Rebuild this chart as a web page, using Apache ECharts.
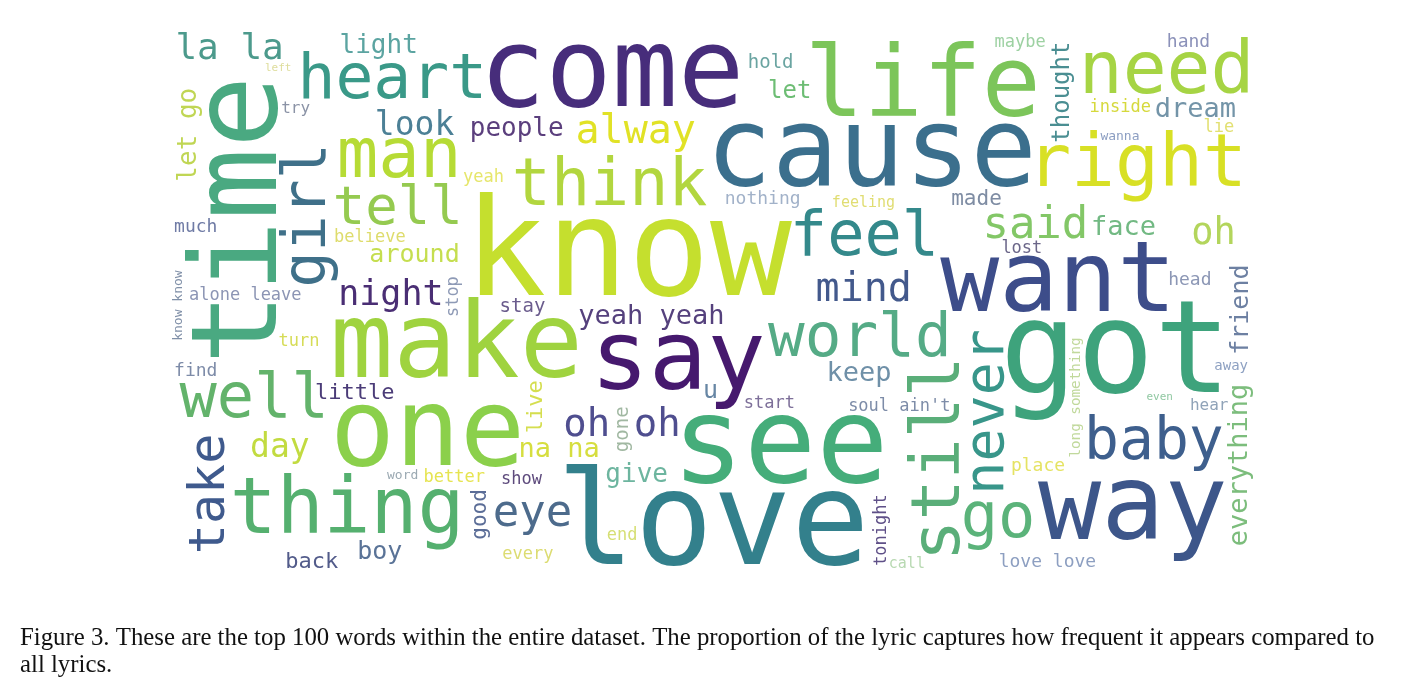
<!DOCTYPE html>
<html>
<head>
<meta charset="utf-8">
<script src="https://cdn.jsdelivr.net/npm/echarts@6/dist/echarts.min.js"></script>
<style>
html,body{margin:0;padding:0;background:#ffffff;}
#chart{width:1415px;height:698px;}
</style>
</head>
<body>
<div id="chart"></div>
<script>
// ---- data: words of the cloud and their relative weights ----
const words = ["know","love","got","time","see","cause","come","one","make","way","want","life","say",
  "thing","need","right","man","still","think","heart","well","feel","go","world","girl","baby","tell",
  "never","take","said","eye","mind","alway","oh oh","oh","la la","night","look","day","yeah yeah",
  "dream","na na","face","everything","keep","people","give","let go","light","u","around","boy",
  "friend","let","thought","little","back","live","made","good","stay","hold","gone","much","love love",
  "find","nothing","place","head","hand","soul ain't","alone leave","end","turn","inside","better",
  "believe","tonight","stop","lie","show","lost","maybe","start","yeah","every","long something","try",
  "hear","feeling","call","away","wanna","word","know know","left","even"];
const weights = [136,130,128,120,120,110,110,108,105,105,98,98,97,
  78,73,73,69,68,65,63,62,62,62,61,60,58,54,
  55,50,44,44,40,40,39,37,36,35,33,33,27,
  27,27,27,27,27,26,26,26,26,25,25,25,
  25,24,24,22,22,22,21,21,19,19,19,18,18,
  18,18,18,18,18,17,17,17,17,17,17,
  17,17,17,17,17,17,17,17,17,17,17,16,
  16,15,15,14,13,13,13,11,11];
// ---- styles (kept apart from the data) ----
const wordColors = ["#c5df2e","#33808c","#3ea37c","#4aa981","#45ad7a","#3b6f8d","#472d7b","#8bd04b","#9fd33f","#3d568a","#3d4d8a","#7cc55a","#46196e",
  "#55b06f","#a6d444","#d8e025","#b6db35","#5aae79","#b2d63f","#3a9988","#63b36b","#34898b","#5bb37a","#55ab86","#3f7089","#3e5f8d","#95ca50",
  "#38968a","#3f5a8d","#83c767","#4d6b8c","#43598c","#e1e226","#4f4e8f","#b3d55c","#4c9a8c","#4a2e74","#4c8096","#c2db40","#55417d",
  "#7394a8","#d6de3f","#72b983","#7cbd7c","#6f90a8","#5b3f7d","#6db59f","#c0d654","#5ba4a1","#6786a4","#c5de4f","#5a7397",
  "#6d80a2","#6dbd74","#4a8e92","#4b3c78","#525b8a","#d5de4f","#7e8ca3","#5b6d97","#6b5c8d","#6aa4a1","#a1b8a2","#6f7ba5","#8d9fc1",
  "#7d8ba8","#a2b2c9","#e5e363","#8c97b5","#8b91b9","#7d8ca8","#8c95b4","#d6df74","#d6dc57","#d6d93d","#e6e451",
  "#dedc6c","#5f5088","#8e9ab6","#e2e072","#5e4b7d","#6b6689","#9dd1a2","#7d6f99","#e6e66b","#dcdc72","#c1d99c","#8b93a6",
  "#90a3b8","#e0dd72","#b8d9b2","#8ea1c2","#8c9ec2","#9ba9b2","#8090a8","#dedd9c","#90c8a2"];
const wordVertical = ["time","still","girl","never","take","everything","let go","friend","thought","live",
  "good","gone","tonight","stop","long something","know know"];
const captionLines = [
  "Figure 3. These are the top 100 words within the entire dataset. The proportion of the lyric captures how frequent it appears compared to",
  "all lyrics."
];

// ---- word cloud layout (greedy placement, like the python wordcloud 400x200 canvas) ----
const CLOUD_W = 400, CLOUD_H = 200;
const WEIGHT_TO_FONT = 1 / 2.7125;
const FONT_FAMILY = '"DejaVu Sans Mono"';
const MARGIN = 2;
const RES = 2;

function layoutCloud() {
  const BW = CLOUD_W * RES, BH = CLOUD_H * RES;
  const cv = document.createElement('canvas');
  cv.width = BW; cv.height = BH;
  const ctx = cv.getContext('2d', { willReadFrequently: true });
  ctx.textBaseline = 'middle';
  ctx.textAlign = 'left';
  ctx.fillStyle = '#000';
  const W1 = BW + 1;
  const integ = new Int32Array(W1 * (BH + 1));
  function buildIntegral() {
    const d = ctx.getImageData(0, 0, BW, BH).data;
    for (let y = 0; y < BH; y++) {
      let row = 0;
      for (let x = 0; x < BW; x++) {
        row += d[(y * BW + x) * 4 + 3] > 0 ? 1 : 0;
        integ[(y + 1) * W1 + x + 1] = integ[y * W1 + x + 1] + row;
      }
    }
  }
  const order = words.map((w, i) => i).sort((a, b) => weights[b] - weights[a] || a - b);
  const placed = [];
  let rank = 0;
  for (const i of order) {
    buildIntegral();
    const vert = wordVertical.indexOf(words[i]) >= 0;
    let fs = weights[i] * WEIGHT_TO_FONT;
    while (fs >= 3) {
      ctx.font = (fs * RES) + 'px ' + FONT_FAMILY;
      const m = ctx.measureText(words[i]);
      const left = m.actualBoundingBoxLeft, right = m.actualBoundingBoxRight;
      const asc = m.actualBoundingBoxAscent, desc = m.actualBoundingBoxDescent;
      const tw = Math.ceil(left + right), th = Math.ceil(asc + desc);
      const mg = MARGIN * RES;
      const bw = (vert ? th : tw) + mg, bh = (vert ? tw : th) + mg;
      if (bw >= BW || bh >= BH) { fs -= 0.5; continue; }
      let count = 0;
      const fits = (x, y) =>
        integ[(y + bh) * W1 + x + bw] - integ[y * W1 + x + bw] - integ[(y + bh) * W1 + x] + integ[y * W1 + x] === 0;
      for (let y = 0; y + bh <= BH; y++) for (let x = 0; x + bw <= BW; x++) if (fits(x, y)) count++;
      if (!count) { fs -= 0.5; continue; }
      const f = (0.37 + rank * 0.6180339887) % 1;
      let target = Math.floor(f * count), px = 0, py = 0;
      outer:
      for (let y = 0; y + bh <= BH; y++) for (let x = 0; x + bw <= BW; x++) {
        if (fits(x, y)) { if (target === 0) { px = x; py = y; break outer; } target--; }
      }
      const bx = px + mg / 2, by = py + mg / 2;
      let ox, oy;
      if (!vert) {
        ox = bx + left; oy = by + asc;
        ctx.fillText(words[i], ox, oy);
      } else {
        ox = bx + asc; oy = by + right;
        ctx.save(); ctx.translate(ox, oy); ctx.rotate(-Math.PI / 2);
        ctx.fillText(words[i], 0, 0); ctx.restore();
      }
      placed.push([ox / RES, oy / RES, fs, vert ? 1 : 0, i]);
      break;
    }
    rank++;
  }
  return placed;
}

const cloudData = layoutCloud();

const chart = echarts.init(document.getElementById('chart'), null, { renderer: 'canvas' });
chart.setOption({
  backgroundColor: '#ffffff',
  animation: false,
  grid: { left: 170, top: 29, width: 1085, height: 542 },
  xAxis: { type: 'value', min: 0, max: CLOUD_W, show: false },
  yAxis: { type: 'value', min: 0, max: CLOUD_H, inverse: true, show: false },
  series: [{
    type: 'custom',
    clip: false,
    data: cloudData,
    encode: { x: 0, y: 1 },
    renderItem: function (params, api) {
      const pt = api.coord([api.value(0), api.value(1)]);
      const scale = api.size([1, 0])[0];
      const idx = api.value(4);
      return {
        type: 'text',
        x: pt[0], y: pt[1],
        rotation: api.value(3) ? Math.PI / 2 : 0,
        style: {
          text: words[idx],
          fontSize: api.value(2) * scale,
          fontFamily: 'DejaVu Sans Mono',
          fill: wordColors[idx],
          align: 'left',
          verticalAlign: 'middle'
        }
      };
    }
  }],
  graphic: [{
    type: 'text',
    left: 20, top: 625,
    style: {
      text: captionLines.join('\n'),
      fontFamily: '"Liberation Serif", "Times New Roman", serif',
      fontSize: 24.8,
      lineHeight: 27,
      fill: '#111'
    }
  }]
});
</script>
</body>
</html>
